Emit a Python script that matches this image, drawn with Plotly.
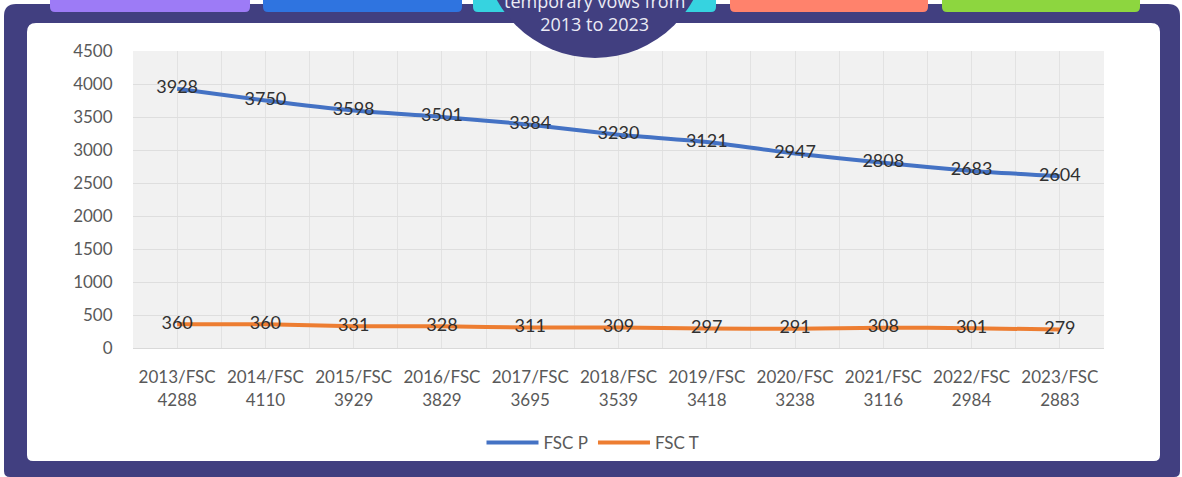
import plotly.graph_objects as go

# Yearly totals
years = ["2013", "2014", "2015", "2016", "2017", "2018", "2019", "2020", "2021", "2022", "2023"]
fsc_total = [4288, 4110, 3929, 3829, 3695, 3539, 3418, 3238, 3116, 2984, 2883]
fsc_p = [3928, 3750, 3598, 3501, 3384, 3230, 3121, 2947, 2808, 2683, 2604]
fsc_t = [360, 360, 331, 328, 311, 309, 297, 291, 308, 301, 279]
y_ticks = [0, 500, 1000, 1500, 2000, 2500, 3000, 3500, 4000, 4500]

categories = [f"{y}/FSC<br>{t}" for y, t in zip(years, fsc_total)]
idx = list(range(len(categories)))

W, H = 1182, 477
ML, MR, MT, MB = 133, 78, 51, 129
PW, PH = W - ML - MR, H - MT - MB

NAVY = "#413f80"
FONT = "Lato, 'Open Sans', sans-serif"


def px(x):
    return (x - ML) / PW


def py(y):
    return 1 - (y - MT) / PH


def rounded_path(x0, y0, x1, y1, r_top, r_bot):
    """Rounded rectangle path in paper units from pixel corners."""
    pts = [
        f"M{px(x0 + r_top)},{py(y0)}",
        f"L{px(x1 - r_top)},{py(y0)}",
        f"Q{px(x1)},{py(y0)} {px(x1)},{py(y0 + r_top)}",
        f"L{px(x1)},{py(y1 - r_bot)}",
        f"Q{px(x1)},{py(y1)} {px(x1 - r_bot)},{py(y1)}",
        f"L{px(x0 + r_bot)},{py(y1)}",
        f"Q{px(x0)},{py(y1)} {px(x0)},{py(y1 - r_bot)}",
        f"L{px(x0)},{py(y0 + r_top)}",
        f"Q{px(x0)},{py(y0)} {px(x0 + r_top)},{py(y0)}",
        "Z",
    ]
    return " ".join(pts)


shapes = []
# outer navy frame
shapes.append(dict(type="path", xref="paper", yref="paper", layer="below",
                   path=rounded_path(4, 4, 1180, 477, 12, 6),
                   fillcolor=NAVY, line=dict(width=0)))
# coloured tabs along the top
tabs = [(50, 250, "#9d7bf6"), (263, 462, "#2f74e0"), (473, 716, "#36d3e0"),
        (730, 928, "#ff826c"), (942, 1140, "#8dd63f")]
for x0, x1, c in tabs:
    shapes.append(dict(type="path", xref="paper", yref="paper", layer="below",
                       path=rounded_path(x0, -2, x1, 12, 0, 5),
                       fillcolor=c, line=dict(width=0)))
# white card
shapes.append(dict(type="path", xref="paper", yref="paper", layer="below",
                   path=rounded_path(27, 23, 1160, 461, 9, 6),
                   fillcolor="white", line=dict(width=0)))
# plot area background
shapes.append(dict(type="rect", xref="paper", yref="paper", layer="below",
                   x0=0, x1=1, y0=0, y1=1, fillcolor="#f1f1f1", line=dict(width=0)))
# title badge
cx, cy, r = 595, -54, 112
shapes.append(dict(type="circle", xref="paper", yref="paper", layer="above",
                   x0=px(cx - r), x1=px(cx + r), y0=py(cy + r), y1=py(cy - r),
                   fillcolor=NAVY, line=dict(width=0)))

fig = go.Figure()
fig.add_trace(go.Scatter(
    x=idx, y=fsc_p, name="FSC P", mode="lines+text",
    line=dict(color="#4472c4", width=4, shape="spline", smoothing=0.5),
    text=[str(v) for v in fsc_p], textposition="middle center",
    textfont=dict(family=FONT, size=18, color="#303030"),
))
fig.add_trace(go.Scatter(
    x=idx, y=fsc_t, name="FSC T", mode="lines+text",
    line=dict(color="#ed7d31", width=4, shape="spline", smoothing=0.5),
    text=[str(v) for v in fsc_t], textposition="middle center",
    textfont=dict(family=FONT, size=18, color="#303030"),
))

fig.update_layout(
    width=W, height=H,
    margin=dict(l=ML, r=MR, t=MT, b=MB, autoexpand=False),
    paper_bgcolor="white",
    plot_bgcolor="rgba(0,0,0,0)",
    shapes=shapes,
    showlegend=True,
    legend=dict(orientation="h", x=px(593), xanchor="center",
                y=py(443), yanchor="middle",
                font=dict(family=FONT, size=17, color="#595959"),
                itemwidth=52, bgcolor="rgba(0,0,0,0)"),
    annotations=[dict(
        text="temporary vows from<br>2013 to 2023",
        xref="paper", yref="paper", x=px(594), y=py(12), xanchor="center", yanchor="middle",
        showarrow=False, font=dict(family="'Open Sans', sans-serif", size=18, color="#ebebf5"),
    )],
    xaxis=dict(
        range=[-0.5, len(idx) - 0.5], tickmode="array", tickvals=idx, ticktext=categories,
        showgrid=True, gridcolor="#e2e2e2", gridwidth=1,
        minor=dict(tickmode="array", tickvals=[i - 0.5 for i in idx] + [len(idx) - 0.5],
                   showgrid=True, gridcolor="#e2e2e2", gridwidth=1, ticks=""),
        showline=True, linecolor="#d9d9d9", zeroline=False,
        ticks="outside", ticklen=14, tickcolor="rgba(0,0,0,0)",
        tickfont=dict(family=FONT, size=17, color="#595959"),
        fixedrange=True,
    ),
    yaxis=dict(
        range=[0, 4500], tickmode="array", tickvals=y_ticks,
        showgrid=True, gridcolor="#dedede", gridwidth=1, zeroline=False,
        tickfont=dict(family=FONT, size=17, color="#595959"),
        ticks="outside", ticklen=16, tickcolor="rgba(0,0,0,0)",
        fixedrange=True,
    ),
)

fig.write_html("out.html")
